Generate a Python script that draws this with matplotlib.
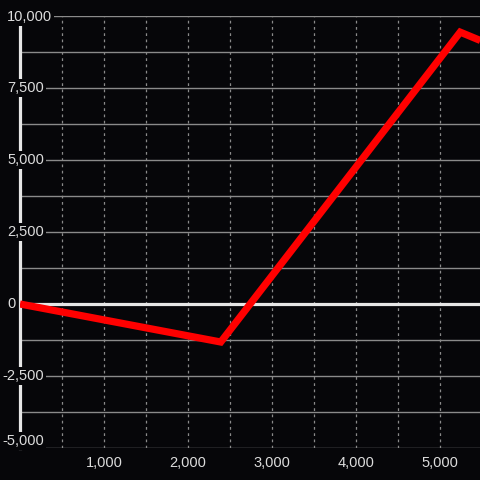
import matplotlib
matplotlib.use('Agg')
import matplotlib.pyplot as plt
import matplotlib.transforms as mtransforms
from matplotlib.ticker import MultipleLocator, FixedLocator, NullFormatter

# ---- data ----
x_vals = [0, 2390, 5240, 5480]
y_vals = [0, -1320, 9440, 9150]
x_tick_values = [1000, 2000, 3000, 4000, 5000]
x_tick_labels = ['1,000', '2,000', '3,000', '4,000', '5,000']
y_tick_values = [-5000, -2500, 0, 2500, 5000, 7500, 10000]
y_tick_labels = ['-5,000', '-2,500', '0', '2,500', '5,000', '7,500', '10,000']

bg = '#060609'
txt = '#dcdcdc'
grid_c = '#8a8a8a'
plt.rcParams['font.family'] = ['Liberation Sans', 'DejaVu Sans']

fig = plt.figure(figsize=(4.8, 4.8), dpi=100, facecolor=bg)
W = 480.0
ax = fig.add_axes([20 / W, 32 / W, 460 / W, 432 / W])
ax.set_facecolor(bg)
ax.set_xlim(0, 5476)
ax.set_ylim(-5000, 10000)
for s in ax.spines.values():
    s.set_visible(False)

# grids
ax.yaxis.set_major_locator(FixedLocator(y_tick_values))
ax.yaxis.set_minor_locator(MultipleLocator(1250))
ax.xaxis.set_major_locator(FixedLocator(x_tick_values))
ax.xaxis.set_minor_locator(MultipleLocator(500))
ax.grid(True, axis='y', which='both', color=grid_c, lw=1.0, zorder=0.5)
ax.grid(True, axis='x', which='both', color=grid_c, lw=0.9, linestyle=(0, (2.2, 2.8)), zorder=0.5)
ax.set_axisbelow(True)

ax.tick_params(axis='both', which='both', length=0)
ax.set_xticklabels(x_tick_labels, color=txt, fontsize=10.5)
ax.tick_params(axis='x', pad=5.5)
ax.yaxis.set_major_formatter(NullFormatter())

# zero line and left axis line
ax.axhline(0, color='#e6e6e6', lw=2.3, zorder=2)
ax.axvline(0, color='#e6e6e6', lw=2.3, zorder=2, clip_on=False)

# data line
ax.plot(x_vals, y_vals, color='#ff0000', lw=5.2, solid_joinstyle='miter',
        solid_capstyle='butt', zorder=3)

# y labels with background boxes
base = ax.get_yaxis_transform()
for v, lab in zip(y_tick_values, y_tick_labels):
    xpx = 7 - (5 if v < 0 else 0)
    dy = 7 if v == min(y_tick_values) else (-1 if v == max(y_tick_values) else 0)
    trans = mtransforms.offset_copy(base, fig=fig, x=0, y=dy, units='dots')
    ax.text((xpx - 20) / 460, v, lab, transform=trans, ha='left', va='center',
            color=txt, fontsize=10.5, zorder=6, clip_on=False,
            bbox=dict(boxstyle='square,pad=0.15', fc=bg, ec='none'))

fig.savefig('out.png', dpi=100, facecolor=bg)
